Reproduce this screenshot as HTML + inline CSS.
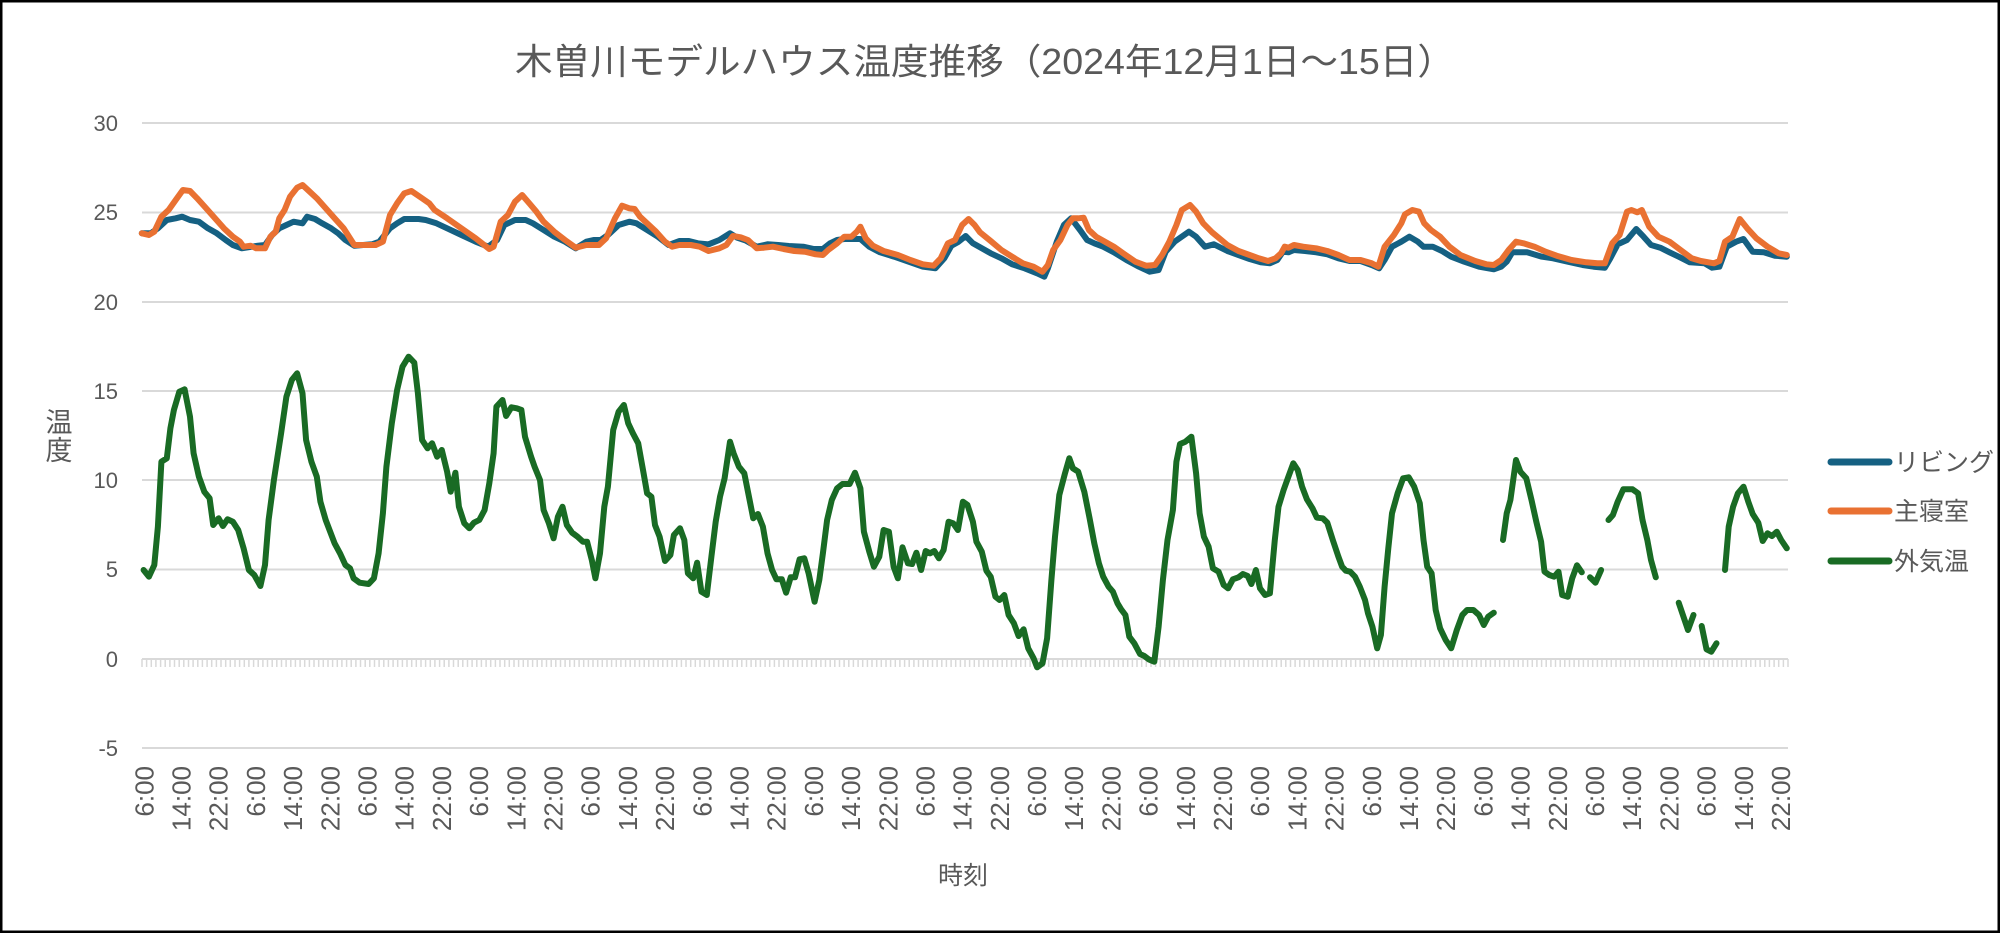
<!DOCTYPE html>
<html><head><meta charset="utf-8">
<style>
html,body{margin:0;padding:0;background:#fff;}
body{width:2000px;height:933px;overflow:hidden;}
svg{display:block;}
text{font-family:"Liberation Sans","Noto Sans CJK JP",sans-serif;fill:#595959;}
</style></head>
<body>
<svg id="s" width="2000" height="933" viewBox="0 0 2000 933" xmlns="http://www.w3.org/2000/svg">
<rect x="1" y="1" width="1998" height="931" fill="#fff" stroke="#000" stroke-width="3"/>
<text x="985" y="74" font-size="36" text-anchor="middle" textLength="940" lengthAdjust="spacingAndGlyphs">木曽川モデルハウス温度推移（2024年12月1日～15日）</text>
<g id="grid" stroke="#d9d9d9" stroke-width="2">
<line x1="142" x2="1788" y1="123" y2="123"/>
<line x1="142" x2="1788" y1="212.5" y2="212.5"/>
<line x1="142" x2="1788" y1="302" y2="302"/>
<line x1="142" x2="1788" y1="391" y2="391"/>
<line x1="142" x2="1788" y1="480" y2="480"/>
<line x1="142" x2="1788" y1="569.5" y2="569.5"/>
<line x1="142" x2="1788" y1="659" y2="659"/>
<line x1="142" x2="1788" y1="748" y2="748"/>
</g>
<g font-size="22" text-anchor="end">
<text x="118" y="131">30</text>
<text x="118" y="220">25</text>
<text x="118" y="310">20</text>
<text x="118" y="399">15</text>
<text x="118" y="488">10</text>
<text x="118" y="577">5</text>
<text x="118" y="667">0</text>
<text x="118" y="756">-5</text>
</g>
<text x="59" y="432" font-size="27" text-anchor="middle">温</text>
<text x="59" y="460" font-size="27" text-anchor="middle">度</text>
<text x="963" y="884" font-size="25" text-anchor="middle">時刻</text>
<g id="ticks" stroke="#d9d9d9" stroke-width="1.5"></g>
<g id="xl" font-size="26" text-anchor="end"></g>
<g id="series" fill="none" stroke-linejoin="round" stroke-linecap="round"></g>
<g stroke-width="7" stroke-linecap="round">
<line x1="1831" x2="1889" y1="462" y2="462" stroke="#156082"/>
<line x1="1831" x2="1889" y1="511" y2="511" stroke="#e97132"/>
<line x1="1831" x2="1889" y1="561" y2="561" stroke="#196b24"/>
</g>
<g font-size="25">
<text x="1894" y="471">リビング</text>
<text x="1894" y="520">主寝室</text>
<text x="1894" y="570">外気温</text>
</g>
</svg>
<script>
var NS="http://www.w3.org/2000/svg";
function el(t,a,p,txt){var e=document.createElementNS(NS,t);for(var k in a)e.setAttribute(k,a[k]);if(txt)e.textContent=txt;p.appendChild(e);return e;}
var step=1646/354;
var tk=document.getElementById('ticks');
var d="";for(var i=0;i<=354;i++){var x=142+i*step;d+="M"+x.toFixed(1)+" 659V667";}
el('path',{d:d},tk);
var xl=document.getElementById('xl');
var labs=["6:00","14:00","22:00"];
for(var k=0;k<45;k++){var x=144.3+k*8*step+9;el('text',{transform:"translate("+x.toFixed(1)+",766) rotate(-90)"},xl,labs[k%3]);}
function cv(a,x0,hf,y0,xmin,xmax){var r=[];for(var i=0;i<a.length;i+=2){var x=x0+a[i]/hf;if(xmin!=null&&x<xmin)continue;if(xmax!=null&&x>xmax)continue;r.push([x,y0+a[i+1]/3]);}return r;}
function path(pts){return "M"+pts.map(function(p){return p[0].toFixed(1)+" "+p[1].toFixed(1)}).join("L");}
var ser=document.getElementById('series');
// blue
var b8=[5,175,30,175,50,160,75,135,100,130,118,125,140,135,165,140,190,160,215,175,240,195,260,210,285,220,330,212,350,210,370,180,390,160,410,150,430,140,455,145,468,125,490,132,510,145,535,160,555,175,575,195,600,212,650,208,670,200,700,160,720,145,740,132,780,132,800,135,830,145,860,160,900,180,940,200,975,215,1000,195,1020,150,1050,135,1080,135,1100,145,1130,165,1160,185,1190,200,1220,220,1250,200,1270,195,1290,195,1310,180,1340,150,1370,140,1390,145,1420,165,1450,185,1480,210,1510,198];
var b9=[0,195,25,198,50,205,80,208,110,195,140,175,160,188,185,197,215,215,245,208,275,210,305,213,345,215,375,222,400,222,420,205,440,195,460,192,485,192,505,192,530,215,560,232,600,245,640,260,680,275,715,280,740,250,760,212,780,200,800,183,820,205,845,220,870,235,900,250,930,268,965,280,1000,295,1020,305,1030,280,1055,200,1075,150,1095,130,1120,165,1140,195,1160,205,1185,215,1215,232,1250,255,1285,275,1315,290,1340,285,1360,230,1385,200,1425,170,1445,185,1470,215,1495,208,1520,220];
var b10=[0,215,20,228,50,240,80,252,110,262,135,265,155,255,170,230,185,232,200,225,230,228,260,232,290,238,320,250,350,258,380,258,410,270,430,280,445,255,465,215,490,200,512,185,535,200,550,215,575,215,600,228,625,245,660,260,700,275,740,283,760,275,775,260,790,232,830,232,870,245,900,250,940,260,980,270,1010,275,1040,278,1055,250,1075,208,1100,195,1125,162,1145,185,1165,210,1190,218,1215,232,1240,245,1270,262,1310,265,1330,278,1350,275,1370,215,1395,200,1415,192,1440,230,1470,232,1500,242,1532,245];
var o8=[5,175,25,180,40,170,60,125,80,105,100,75,120,45,140,48,160,70,185,100,210,130,235,160,260,185,280,200,290,215,310,212,325,220,350,220,365,185,380,170,390,130,405,105,420,65,440,38,455,30,470,45,495,70,520,100,545,130,570,160,600,210,625,210,660,210,680,200,700,120,720,85,740,55,760,48,790,70,810,85,825,105,860,130,900,160,940,190,978,222,990,215,1010,140,1030,120,1050,80,1070,60,1090,85,1110,110,1130,140,1160,170,1190,195,1220,218,1250,210,1285,210,1305,190,1330,130,1350,92,1370,100,1385,102,1400,125,1420,145,1445,170,1470,200,1490,215,1510,210];
var o9=[0,210,30,210,55,215,80,228,110,220,130,210,148,183,170,187,190,195,215,220,235,218,260,215,290,222,320,228,350,230,380,238,400,240,415,225,440,205,460,185,480,185,495,170,505,155,520,190,540,212,570,228,610,240,645,255,680,268,710,272,730,250,750,205,770,195,790,150,808,132,825,150,840,172,870,198,900,225,930,245,960,265,990,275,1015,290,1030,270,1045,225,1065,195,1085,150,1100,130,1115,130,1130,128,1145,165,1165,185,1190,200,1215,215,1245,238,1275,260,1305,272,1330,270,1350,240,1370,200,1390,150,1405,105,1428,90,1445,110,1465,145,1490,172,1515,185];
var o10=[0,185,20,210,50,228,80,240,105,250,130,258,150,250,165,235,175,215,185,218,200,210,225,215,260,220,290,228,320,240,350,255,380,255,410,265,428,275,445,215,470,180,490,145,500,118,520,105,538,110,552,145,570,165,595,185,620,215,650,240,690,258,720,268,740,270,760,255,780,225,800,200,820,205,850,215,880,230,910,242,950,255,990,262,1020,265,1040,265,1060,205,1080,180,1100,110,1112,105,1128,112,1140,105,1160,155,1185,185,1215,200,1245,225,1275,250,1300,258,1335,265,1350,258,1365,200,1385,185,1405,132,1425,160,1450,190,1480,215,1510,235,1532,240];
var bp=cv(b8,140,2.8,175,null,680).concat(cv(b9,680,2.8,175,681,1220)).concat(cv(b10,1220,2.703,175,1221,null));
var op=cv(o8,140,2.8,175,null,680).concat(cv(o9,680,2.8,175,681,1220)).concat(cv(o10,1220,2.703,175,1221,null));
el('path',{d:path(bp),stroke:"#156082","stroke-width":"6"},ser);
el('path',{d:path(op),stroke:"#e97132","stroke-width":"6"},ser);
// green
var g5=[10,690,25,710,40,675,50,560,60,365,75,355,85,265,95,210,110,155,125,148,140,230,150,340,165,410,180,455,195,475,205,555,220,535,232,558,245,538,260,545,275,570,290,625,305,690,320,705,337,738,350,675,360,540,375,420,395,280,410,170,425,120,440,100,455,160,465,300,480,365,495,410,505,485,520,540,545,610,560,640,575,675,588,685,598,715,615,728,640,732,655,715,668,640,680,520,690,380,705,250,720,150,735,80,752,50,768,68,778,160,790,300,805,325,818,310,832,350,845,330,860,395,870,455,883,398,893,500,908,550,922,565,935,548,950,540,965,510,978,430,990,340,998,200,1015,180,1025,228,1040,202,1055,205,1068,210,1078,290,1095,350,1105,380,1120,420,1130,510,1145,550,1158,595,1170,530,1183,500,1195,555,1210,578,1225,590,1240,605,1252,605,1265,660,1275,715,1288,640,1300,500,1310,440,1325,270,1340,215,1355,195,1367,250,1380,280,1395,310,1410,400,1420,460,1432,470,1442,555,1455,590,1470,663,1485,645,1495,585,1510,565];
var g6=[0,565,12,600,22,700,37,715,48,668,60,755,75,765,88,650,100,545,112,470,125,415,140,305,150,340,165,380,180,400,195,480,205,535,218,522,232,560,245,640,258,690,270,718,285,718,297,758,310,712,322,712,335,658,348,655,360,700,377,785,390,720,400,640,412,540,425,480,440,445,455,432,475,432,490,398,505,445,515,575,530,635,543,680,558,650,570,570,585,575,598,680,610,715,623,622,638,670,650,672,662,638,675,690,688,633,700,640,712,633,725,655,738,630,752,545,765,550,778,570,792,485,805,495,820,545,830,605,845,635,858,692,870,710,883,770,895,780,908,765,920,825,935,850,948,888,962,868,975,925,990,955,1000,982,1015,970,1028,895,1040,720,1050,590,1062,465,1078,400,1090,355,1100,385,1115,395,1132,455,1147,535,1160,610,1173,670,1185,710,1200,740,1212,755,1225,790,1235,808,1247,825,1258,890,1272,910,1288,942,1300,948,1312,958,1328,965,1340,860,1352,720,1365,600,1380,510,1390,365,1400,312,1415,305,1432,290,1445,400,1455,520,1467,590,1480,620,1492,685,1508,695];
var gA=[0,690,10,735,22,745,35,718,50,712,62,702,75,708,85,732,97,690,108,745,122,765,135,760,148,600,158,500,172,450,185,410,198,370,210,390,222,440,235,478,250,505,262,533,278,535,290,548,305,600,320,650,330,680,340,692,352,695,365,710,378,740,392,780,400,820,412,860,425,925,435,885,445,740,455,625,465,520,480,460,495,415,510,412,525,440,540,490,550,600,560,680,572,700,583,810,595,865,610,900,625,925,640,870,655,825,668,810,685,810,700,825,713,855,725,830,740,818];
var gB=[765,600,775,520,785,480,800,360,812,395,828,415,842,480,855,545,868,605,877,695,890,705,903,710,915,695,925,765,940,770,952,715,965,676,978,697];
var gC=[1000,712,1015,728,1030,690];
var gD=[1050,540,1062,525,1075,485,1090,448,1115,448,1130,460,1142,540,1155,600,1165,660,1178,712];
var gE=[1240,788,1265,870,1280,825];
var gF=[1302,858,1315,928,1328,935,1342,910];
var gG=[1365,690,1375,560,1387,500,1400,460,1415,440,1428,485,1440,522,1455,548,1467,603,1480,580,1492,588,1505,575,1517,600,1532,625];
var main=cv(g5,140,2.8,340,null,679).concat(cv(g6,680,2.8,340,680,1220)).concat(cv(gA,1220,2.703,340,1221,null));
var gs=[main,cv(gB,1220,2.703,340),cv(gC,1220,2.703,340),cv(gD,1220,2.703,340),cv(gE,1220,2.703,340),cv(gF,1220,2.703,340),cv(gG,1220,2.703,340)];
gs.forEach(function(p){el('path',{d:path(p),stroke:"#196b24","stroke-width":"6"},ser);});
</script>
</body></html>
